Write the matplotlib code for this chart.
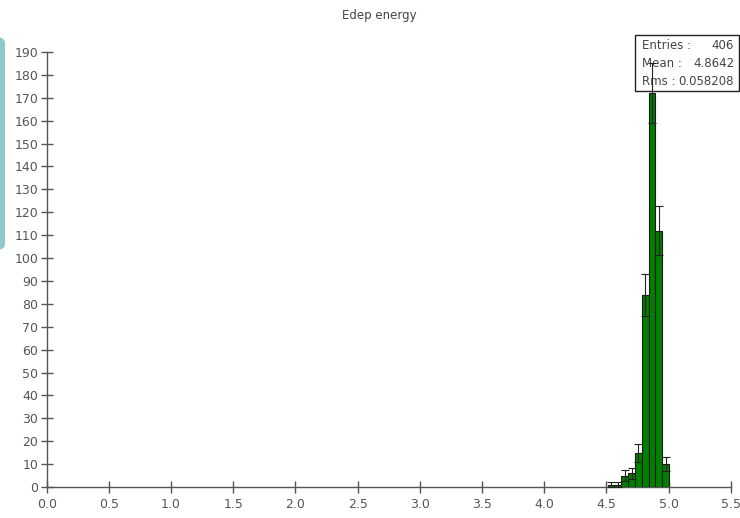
import matplotlib
matplotlib.use("Agg")
import matplotlib.pyplot as plt
from matplotlib.patches import FancyBboxPatch, Rectangle
import numpy as np

# ---- data ----
title = "Edep energy"
bin_edges = [4.51, 4.565, 4.62, 4.675, 4.73, 4.785, 4.84, 4.895, 4.95, 5.005]
counts = [1, 1, 5, 6, 15, 84, 172, 112, 10]
stat_labels = ["Entries :", "Mean :", "Rms :"]
stat_values = ["406", "4.8642", "0.058208"]
xticks = [0.0, 0.5, 1.0, 1.5, 2.0, 2.5, 3.0, 3.5, 4.0, 4.5, 5.0, 5.5]
yticks = list(range(0, 200, 10))

W, H = 740, 518
fig = plt.figure(figsize=(W / 100, H / 100), dpi=100)
plt.rcParams['font.family'] = ['DejaVu Sans']

def fx(px):
    return px / W

def fy(py):
    return 1 - py / H

ax_l, ax_r, ax_t, ax_b = 46.7, 730.7, 52, 487
ax = fig.add_axes([fx(ax_l), fy(ax_b), fx(ax_r) - fx(ax_l), fy(ax_t) - fy(ax_b)])

edges = np.array(bin_edges)
vals = np.array(counts, dtype=float)
widths = np.diff(edges)
centers = edges[:-1] + widths / 2
ax.bar(edges[:-1], vals, width=widths, align='edge', color='#007f00',
       edgecolor='#1a1a1a', linewidth=0.8, zorder=3)
err = np.sqrt(vals)
ax.errorbar(centers, vals, yerr=err, fmt='none', ecolor='#222222',
            elinewidth=0.8, capsize=3, capthick=0.8, zorder=6, clip_on=False)

ax.set_xlim(0, 5.5)
ax.set_ylim(0, 190)
ax.set_xticks(xticks)
ax.set_xticklabels([f"{t:.1f}" for t in xticks])
ax.set_yticks(yticks)
ax.set_yticklabels([str(t) for t in yticks])
for s in ['top', 'right']:
    ax.spines[s].set_visible(False)
for s in ['left', 'bottom']:
    ax.spines[s].set_color('#555555')
    ax.spines[s].set_linewidth(1.0)
ax.tick_params(direction='inout', length=8, width=1.0, color='#555555',
               labelcolor='#555555', labelsize=9)
ax.tick_params(axis='x', pad=4)
ax.tick_params(axis='y', pad=2)
ax.set_facecolor('none')

# title
fig.text(fx(379), fy(15), title, ha='center', va='center', fontsize=8.5,
         color='#444444')

# stats box
bx0, by0, bx1, by1 = 634.5, 34.7, 739.3, 91
box = Rectangle((fx(bx0), fy(by1)), fx(bx1) - fx(bx0), fy(by0) - fy(by1),
                transform=fig.transFigure, facecolor='white',
                edgecolor='#222222', linewidth=1.0, zorder=4, clip_on=False)
ax.add_artist(box)
line_y = [45.7, 63.5, 81.7]
for lab, val, yy in zip(stat_labels, stat_values, line_y):
    ax.text(fx(642.5), fy(yy), lab, transform=fig.transFigure, ha='left',
            va='center', fontsize=8.5, color='#444444', zorder=5, clip_on=False)
    ax.text(fx(734), fy(yy), val, transform=fig.transFigure, ha='right',
            va='center', fontsize=8.5, color='#444444', zorder=5, clip_on=False)

# teal rounded shape at left edge
teal = FancyBboxPatch((fx(-20), fy(250)), fx(25), fy(37) - fy(250),
                      boxstyle="round,pad=0,rounding_size=0.012",
                      transform=fig.transFigure, facecolor='#8ecaca',
                      edgecolor='none', zorder=0)
fig.patches.append(teal)

fig.savefig("out.png", dpi=100)
